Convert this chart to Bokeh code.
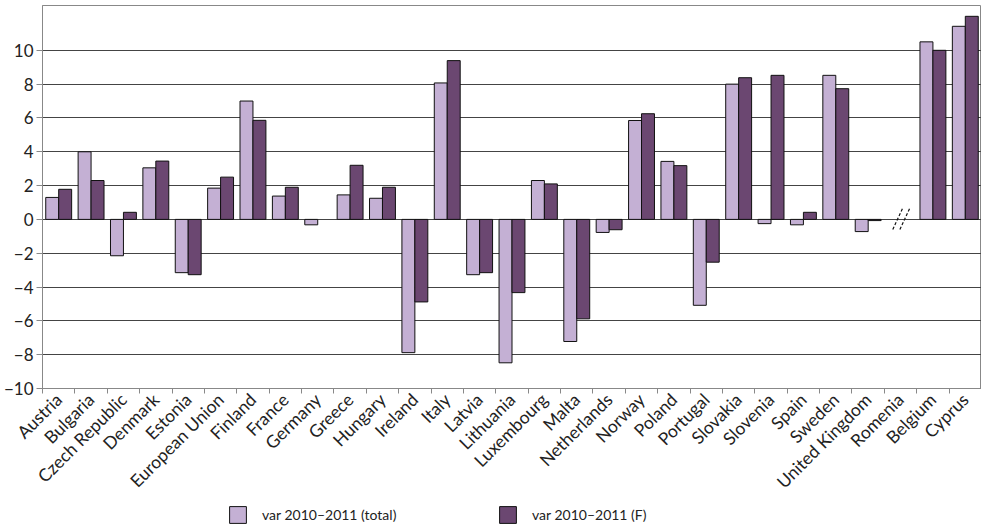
import math
from bokeh.plotting import figure
from bokeh.layouts import column
from bokeh.models import (ColumnDataSource, FixedTicker, Legend, LegendItem, Range1d)
from bokeh.embed import file_html
from bokeh.resources import INLINE

categories = ["Austria", "Bulgaria", "Czech Republic", "Denmark", "Estonia",
              "European Union", "Finland", "France", "Germany", "Greece",
              "Hungary", "Ireland", "Italy", "Latvia", "Lithuania",
              "Luxembourg", "Malta", "Netherlands", "Norway", "Poland",
              "Portugal", "Slovakia", "Slovenia", "Spain", "Sweden",
              "United Kingdom", "Romenia", "Belgium", "Cyprus"]
var_total = [1.3, 4.0, -2.15, 3.05, -3.15, 1.85, 7.0, 1.38, -0.32, 1.45,
             1.25, -7.88, 8.07, -3.27, -8.48, 2.3, -7.22, -0.77, 5.85, 3.43,
             -5.08, 8.0, -0.25, -0.32, 8.52, -0.72, float("nan"), 10.5, 11.42]
var_f = [1.78, 2.3, 0.42, 3.45, -3.27, 2.5, 5.86, 1.9, float("nan"), 3.2,
         1.9, -4.88, 9.39, -3.15, -4.33, 2.1, -5.88, -0.61, 6.25, 3.18,
         -2.53, 8.38, 8.52, 0.42, 7.73, -0.07, float("nan"), 10.0, 12.01]
y_ticks = [-10, -8, -6, -4, -2, 0, 2, 4, 6, 8, 10]
break_categories = ["Romenia"]
series_labels = ["var 2010\u20132011 (total)", "var 2010\u20132011 (F)"]

LIGHT = "#C4B0D4"
DARK = "#6B4771"
FONT = "Lato"
TXT = "#222222"

n = len(categories)
centers = [i + 0.5 for i in range(n)]
src = ColumnDataSource(dict(
    x1=[c - 0.2 for c in centers],
    x2=[c + 0.2 for c in centers],
    total=var_total,
    f=var_f,
))

p = figure(width=981, height=502, output_backend="svg", toolbar_location=None,
           x_range=Range1d(0, n), y_range=Range1d(-10, 12.65),
           min_border_left=42, min_border_right=0, min_border_top=5,
           min_border_bottom=114)

r1 = p.vbar(x="x1", top="total", bottom=0, width=0.4, source=src,
            fill_color=LIGHT, line_color="#111111", line_width=1)
r2 = p.vbar(x="x2", top="f", bottom=0, width=0.4, source=src,
            fill_color=DARK, line_color="#111111", line_width=1)

# axis-break mark for categories without data
for cat in break_categories:
    c = categories.index(cat) + 0.5
    bx0 = [c - 0.24, c - 0.02]
    bx1 = [c + 0.06, c + 0.28]
    p.segment(x0=bx0, y0=[-0.6, -0.6], x1=bx1, y1=[0.65, 0.65],
              line_color="#111111", line_width=1.2, line_dash="3 2")

# x axis: labels at centres, ticks at boundaries
xt = FixedTicker(ticks=centers, minor_ticks=list(range(n + 1)))
p.xaxis.ticker = xt
p.xaxis.major_label_overrides = {c: name for c, name in zip(centers, categories)}
p.xaxis.major_tick_line_color = None
p.xaxis.minor_tick_line_color = "#888888"
p.xaxis.minor_tick_out = 5
p.xaxis.minor_tick_in = 0
p.xaxis.axis_line_color = "#888888"
p.xaxis.major_label_orientation = math.pi / 4
p.xaxis.major_label_text_font = FONT
p.xaxis.major_label_text_font_size = "17.5px"
p.xaxis.major_label_text_color = TXT
p.xaxis.major_label_standoff = 2

p.yaxis.ticker = FixedTicker(ticks=y_ticks)
p.yaxis.axis_line_color = "#888888"
p.yaxis.major_tick_line_color = "#888888"
p.yaxis.major_tick_out = 6
p.yaxis.major_tick_in = 0
p.yaxis.minor_tick_line_color = None
p.yaxis.major_label_text_font = FONT
p.yaxis.major_label_text_font_size = "17px"
p.yaxis.major_label_text_color = TXT
p.yaxis.major_label_standoff = 3

p.xgrid.grid_line_color = None
p.ygrid.grid_line_color = "#444444"
p.ygrid.grid_line_width = 1

p.outline_line_color = "#888888"
p.background_fill_color = "white"
p.border_fill_color = "white"

# legend strip below the chart
lf = figure(width=981, height=27, output_backend="svg", toolbar_location=None,
            x_range=Range1d(0, 1), y_range=Range1d(0, 1),
            x_axis_type=None, y_axis_type=None,
            min_border_left=0, min_border_right=0, min_border_top=0,
            min_border_bottom=0)
lf.outline_line_color = None
lf.xgrid.grid_line_color = None
lf.ygrid.grid_line_color = None
nan_src = ColumnDataSource(dict(x=[float("nan")], top=[float("nan")]))
g1 = lf.vbar(x="x", top="top", width=0.1, source=nan_src,
             fill_color=LIGHT, line_color="#111111", line_width=1)
g2 = lf.vbar(x="x", top="top", width=0.1, source=nan_src,
             fill_color=DARK, line_color="#111111", line_width=1)
legend = Legend(items=[LegendItem(label=series_labels[0], renderers=[g1]),
                       LegendItem(label=series_labels[1], renderers=[g2])],
                orientation="horizontal", location=(185, 4),
                glyph_width=21, glyph_height=21, label_standoff=14,
                label_width=235, spacing=0, padding=0, margin=0,
                border_line_color=None, background_fill_alpha=0,
                label_text_font=FONT, label_text_font_size="14px",
                label_text_color=TXT)
lf.add_layout(legend, "center")

layout = column(p, lf, spacing=0)
open("out.html", "w").write(file_html(layout, INLINE))
